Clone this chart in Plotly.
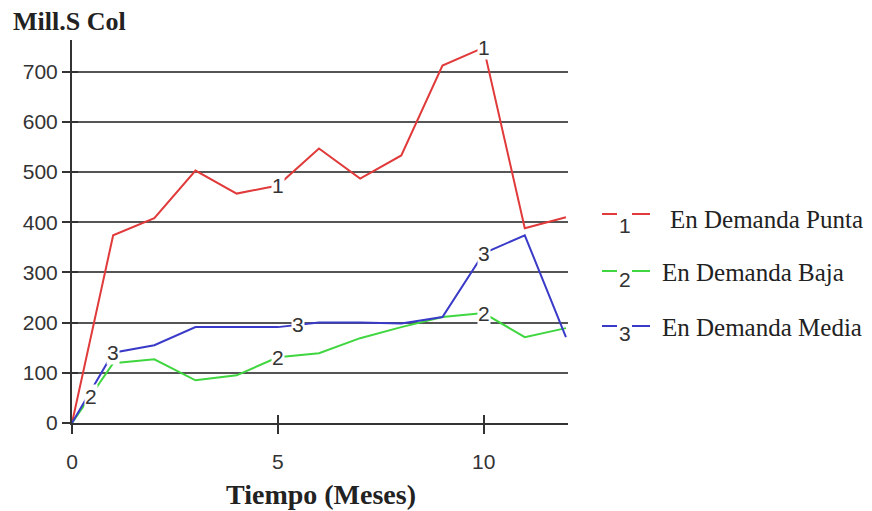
import numpy as np
import plotly.graph_objects as go

# Months on the x axis
meses = list(range(13))

# Cost in millions of Colombian pesos for each demand level
punta = [0, 374, 408, 503, 457, 473, 547, 487, 533, 712, 748, 388, 410]
baja = [0, 119, 127, 85, 95, 131, 139, 169, 191, 211, 219, 171, 189]
media = [0, 140, 155, 191, 191, 191, 200, 200, 198, 211, 338, 374, 171]

nombres = ["En Demanda Punta", "En Demanda Baja", "En Demanda Media"]
ids = ["1", "2", "3"]
colores = ["#e03a3a", "#3fd63f", "#3a3ac8"]
# x positions of the in-line series identifiers
etiquetas_x = [[5, 10], [0.45, 5, 10], [1, 5.5, 10]]

series = [punta, baja, media]

y_ticks = [0, 100, 200, 300, 400, 500, 600, 700]
x_ticks = [0, 5, 10]

W, H = 872, 511
L, R, T, B = 72, 568, 40, 423

SANS = "Liberation Sans, Arial, sans-serif"
SERIF = "Liberation Serif, Times New Roman, serif"

fig = go.Figure()

for vals, nombre, col in zip(series, nombres, colores):
    fig.add_trace(go.Scatter(x=meses, y=vals, mode="lines", name=nombre,
                             line=dict(color=col, width=2), showlegend=False))

# invisible overlay axis supplies the inward half of the crossing ticks
fig.add_trace(go.Scatter(x=[0], y=[0], mode="markers", marker=dict(opacity=0),
                         showlegend=False, hoverinfo="skip", xaxis="x2", yaxis="y2"))

annotations = []
for vals, idt, xs in zip(series, ids, etiquetas_x):
    for xv in xs:
        annotations.append(dict(x=xv, y=float(np.interp(xv, meses, vals)), xref="x", yref="y",
                                text=idt, showarrow=False, bgcolor="white", borderpad=0,
                                xanchor="center", yanchor="middle",
                                font=dict(family=SANS, size=21, color="#333")))


def px(x):
    return (x - L) / (R - L)


def py(y):
    return (B - y) / (B - T)


# hand-built legend: short line broken by the series number, then the name
shapes = []
# (line y, number y, text y, text x)
legend_rows = [(214, 225, 219, 668), (271, 279, 272, 660), (326, 333, 327, 660)]
for (yl, yn, yt, xt), nombre, idt, col in zip(legend_rows, nombres, ids, colores):
    for a, b in ((602, 617), (632, 650)):
        shapes.append(dict(type="line", xref="paper", yref="paper", x0=px(a), x1=px(b),
                           y0=py(yl), y1=py(yl), line=dict(color=col, width=2)))
    annotations.append(dict(x=px(624.5), y=py(yn), xref="paper", yref="paper", text=idt,
                            showarrow=False, xanchor="center", yanchor="middle",
                            font=dict(family=SANS, size=21, color="#333")))
    annotations.append(dict(x=px(xt), y=py(yt), xref="paper", yref="paper", text=nombre,
                            showarrow=False, xanchor="left", yanchor="middle",
                            font=dict(family=SERIF, size=25, color="#222")))

# axis titles
annotations.append(dict(x=px(11), y=py(22), xref="paper", yref="paper", text="<b>Mill.S Col</b>",
                        showarrow=False, xanchor="left", yanchor="middle",
                        font=dict(family=SERIF, size=26, color="#222")))
annotations.append(dict(x=px(321), y=py(494), xref="paper", yref="paper",
                        text="<b>Tiempo (Meses)</b>", showarrow=False,
                        xanchor="center", yanchor="middle",
                        font=dict(family=SERIF, size=28, color="#222")))

axis_common = dict(showline=True, linecolor="#333", linewidth=2, zeroline=False,
                   tickcolor="#333", tickwidth=2)

fig.update_layout(
    width=W, height=H,
    margin=dict(l=L, r=W - R, t=T, b=H - B),
    paper_bgcolor="white", plot_bgcolor="white",
    showlegend=False,
    xaxis=dict(range=[0, 12.05], tickvals=x_ticks, ticks="outside", ticklen=9,
               showgrid=False, ticklabelstandoff=10,
               tickfont=dict(family=SANS, size=21, color="#333"), **axis_common),
    yaxis=dict(range=[0, 763], tickvals=y_ticks, ticks="outside", ticklen=8,
               showgrid=True, gridcolor="#555", gridwidth=2,
               tickfont=dict(family=SANS, size=21, color="#333"), **axis_common),
    xaxis2=dict(range=[0, 12.05], overlaying="x", tickvals=x_ticks, ticks="inside",
                ticklen=8, showticklabels=False, showgrid=False, zeroline=False,
                tickcolor="#333", tickwidth=2),
    yaxis2=dict(range=[0, 763], overlaying="y", tickvals=y_ticks, ticks="inside",
                ticklen=6, showticklabels=False, showgrid=False, zeroline=False,
                tickcolor="#333", tickwidth=2),
    shapes=shapes,
    annotations=annotations,
)

fig.write_html("out.html")
